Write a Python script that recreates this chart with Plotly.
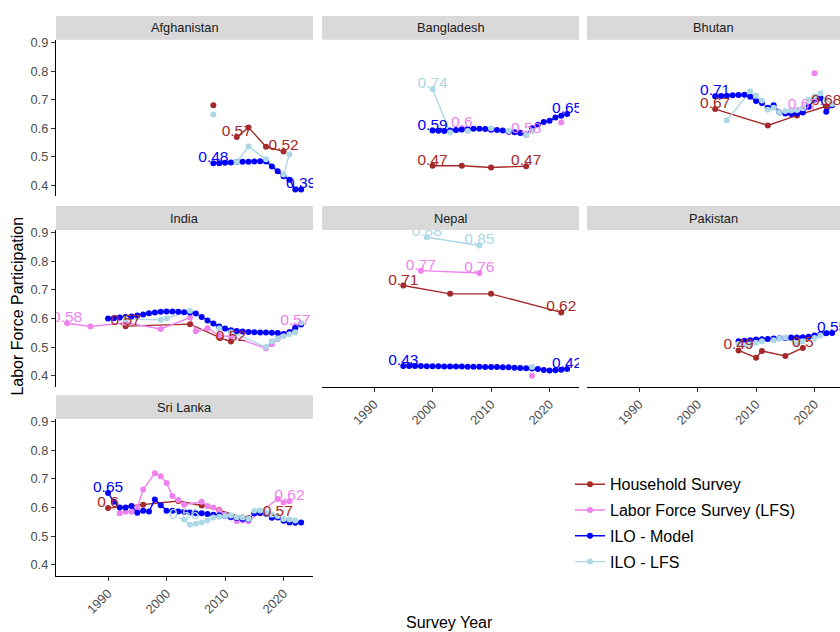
import plotly.graph_objects as go

# ---------------------------------------------------------------- data
SERIES = ["Household Survey", "Labor Force Survey (LFS)", "ILO - Model", "ILO - LFS"]
COLORS = ["#A52A2A", "#EE82EE", "#0000FF", "#ADD8E6"]
COUNTRIES = ["Afghanistan", "Bangladesh", "Bhutan", "India", "Nepal", "Pakistan", "Sri Lanka"]
X_TICKS = [1990, 2000, 2010, 2020]
Y_TICKS = [0.4, 0.5, 0.6, 0.7, 0.8, 0.9]

# None breaks a line between two survey rounds
AFGHANISTAN = {
    "Household Survey": ([2008, 2010, 2012, 2014, 2017, 2020],
                         [0.680, None, 0.569, 0.603, 0.535, 0.519]),
    "ILO - Model": (list(range(2008, 2024)),
                    [0.478, 0.478, 0.479, 0.480, 0.482, 0.483, 0.483, 0.484,
                     0.485, 0.484, 0.466, 0.450, 0.432, 0.420, 0.386, 0.386]),
    "ILO - LFS": ([2008, 2010, 2012, 2014, 2017, 2020, 2021],
                  [0.648, None, 0.482, 0.536, 0.492, 0.438, 0.509]),
}
BANGLADESH = {
    "Household Survey": ([2000, 2005, 2010, 2016], [0.469, 0.469, 0.463, 0.467]),
    "Labor Force Survey (LFS)": ([2005, 2010, 2013, 2015, 2016, 2019, 2022],
                                 [0.600, 0.593, 0.586, 0.585, 0.579, None, 0.620]),
    "ILO - Model": (list(range(2000, 2024)),
                    [0.592, 0.591, 0.590, 0.592, 0.594, 0.596, 0.597, 0.598,
                     0.598, 0.597, 0.596, 0.594, 0.592, 0.589, 0.586, 0.583,
                     0.578, 0.600, 0.612, 0.622, 0.626, 0.638, 0.644, 0.650]),
    "ILO - LFS": ([2000, 2003, 2006, 2010, 2013, 2016, 2017],
                  [0.737, 0.585, 0.590, 0.600, 0.590, 0.578, 0.590]),
}
BHUTAN = {
    "Household Survey": ([2003, 2012, 2017, 2022], [0.667, 0.610, 0.645, 0.677]),
    "Labor Force Survey (LFS)": ([2018, 2019, 2020], [0.665, None, 0.792]),
    "ILO - Model": (list(range(2003, 2024)),
                    [0.712, 0.713, 0.714, 0.715, 0.716, 0.717, 0.710, 0.695,
                     0.688, 0.672, 0.680, 0.655, 0.652, 0.650, 0.652, 0.655,
                     0.675, 0.700, 0.705, 0.658, 0.680]),
    "ILO - LFS": ([2005, 2009, 2010, 2011, 2012, 2013, 2014, 2015, 2016, 2017,
                   2018, 2019, 2020, 2021, 2022, 2023],
                  [0.628, 0.729, 0.714, 0.697, 0.665, 0.672, 0.655, 0.660,
                   0.662, 0.664, 0.670, 0.700, 0.712, 0.722, 0.700, 0.685]),
}
INDIA = {
    "Household Survey": ([1993, 2004, 2009, 2011], [0.573, 0.580, 0.534, 0.519]),
    "Labor Force Survey (LFS)": ([1983, 1987, 1993, 1999, 2004, 2005, 2007, 2009,
                                  2011, 2017, 2018, 2019, 2020, 2021, 2022],
                                 [0.583, 0.572, 0.585, 0.563, 0.603, 0.555, 0.566,
                                  0.540, 0.537, 0.496, 0.510, 0.528, 0.545, 0.553,
                                  0.573]),
    "ILO - Model": (list(range(1990, 2024)),
                    [0.600, 0.601, 0.603, 0.605, 0.607, 0.610, 0.614, 0.618,
                     0.621, 0.623, 0.624, 0.624, 0.623, 0.622, 0.621, 0.617,
                     0.605, 0.593, 0.582, 0.572, 0.565, 0.559, 0.556, 0.554,
                     0.553, 0.552, 0.551, 0.551, 0.550, 0.549, 0.546, 0.552,
                     0.567, 0.579]),
    "ILO - LFS": ([1993, 1999, 2000, 2004, 2009, 2011, 2017, 2018, 2019, 2020,
                   2021, 2022, 2023],
                  [0.598, 0.595, 0.600, 0.627, 0.565, 0.552, 0.500, 0.520,
                   0.530, 0.538, 0.545, 0.552, 0.585]),
}
NEPAL = {
    "Household Survey": ([1995, 2003, 2010, 2022], [0.715, 0.686, 0.686, 0.621]),
    "Labor Force Survey (LFS)": ([1998, 2008, 2012, 2017], [0.767, 0.759, None, 0.400]),
    "ILO - Model": (list(range(1995, 2024)),
                    [0.434, 0.434, 0.434, 0.434, 0.433, 0.433, 0.433, 0.432,
                     0.432, 0.432, 0.432, 0.431, 0.431, 0.431, 0.430, 0.430,
                     0.430, 0.429, 0.429, 0.428, 0.427, 0.426, 0.425, 0.423,
                     0.420, 0.418, 0.419, 0.421, 0.423]),
    "ILO - LFS": ([1999, 2008, 2012, 2017], [0.884, 0.855, None, 0.430]),
}
PAKISTAN = {
    "Household Survey": ([2007, 2010, 2011, 2015, 2018], [0.488, 0.463, 0.486, 0.469, 0.497]),
    "ILO - Model": (list(range(2007, 2024)),
                    [0.520, 0.522, 0.524, 0.526, 0.527, 0.528, 0.530, 0.531,
                     0.532, 0.533, 0.533, 0.534, 0.536, 0.540, 0.545, 0.548,
                     0.549]),
    "ILO - LFS": ([2007, 2008, 2009, 2010, 2011, 2013, 2014, 2015, 2017, 2018,
                   2020, 2021],
                  [0.511, 0.506, 0.510, 0.515, 0.520, 0.524, 0.530, 0.533,
                   0.510, 0.520, 0.532, 0.540]),
}
SRI_LANKA = {
    "Household Survey": ([1990, 1996, 2002, 2006, 2009, 2013, 2016, 2019],
                         [0.598, 0.610, 0.623, 0.607, 0.591, 0.565, 0.580, 0.568]),
    "Labor Force Survey (LFS)": ([1992, 1993, 1994, 1995, 1996, 1998, 1999, 2000,
                                  2001, 2002, 2003, 2006, 2007, 2008, 2009, 2010,
                                  2011, 2012, 2013, 2014, 2019, 2020, 2021],
                                 [0.580, 0.585, 0.585, 0.600, 0.663, 0.720, 0.709,
                                  0.686, 0.640, 0.626, 0.610, 0.620, 0.605, 0.600,
                                  0.590, 0.575, 0.565, 0.553, 0.555, 0.553, 0.630,
                                  0.618, 0.622]),
    "ILO - Model": (list(range(1990, 2024)),
                    [0.651, 0.620, 0.600, 0.600, 0.605, 0.582, 0.589, 0.586,
                     0.628, 0.608, 0.589, 0.589, 0.586, 0.585, 0.583, 0.580,
                     0.580, 0.577, 0.575, 0.573, 0.570, 0.567, 0.563, 0.560,
                     0.558, 0.580, 0.582, 0.578, 0.564, 0.565, 0.554, 0.548,
                     0.547, 0.548]),
    "ILO - LFS": (list(range(2003, 2023)),
                  [0.558, 0.540, 0.543, 0.548, 0.555, 0.565, 0.568, 0.570,
                   0.572, 0.566, 0.565, 0.560, 0.589, 0.590, 0.582, 0.575,
                   0.570, 0.560, 0.558, 0.555]),
}

# survey years whose value is printed next to the point
AFGHANISTAN_LABELS = {"Household Survey": [2012, 2020], "ILO - Model": [2008, 2023]}
BANGLADESH_LABELS = {"Household Survey": [2000, 2016], "Labor Force Survey (LFS)": [2005, 2016],
                     "ILO - Model": [2000, 2023], "ILO - LFS": [2000]}
BHUTAN_LABELS = {"Household Survey": [2003, 2022], "Labor Force Survey (LFS)": [2018],
                 "ILO - Model": [2003]}
INDIA_LABELS = {"Household Survey": [1993, 2011], "Labor Force Survey (LFS)": [1983, 2022]}
NEPAL_LABELS = {"Household Survey": [1995, 2022], "Labor Force Survey (LFS)": [1998, 2008],
                "ILO - Model": [1995, 2023], "ILO - LFS": [1999, 2008]}
PAKISTAN_LABELS = {"Household Survey": [2007, 2018], "ILO - Model": [2023]}
SRI_LANKA_LABELS = {"Household Survey": [1990, 2019], "Labor Force Survey (LFS)": [2021],
                    "ILO - Model": [1990], "ILO - LFS": [2003]}

PANEL_DATA = [AFGHANISTAN, BANGLADESH, BHUTAN, INDIA, NEPAL, PAKISTAN, SRI_LANKA]
PANEL_LABELS = [AFGHANISTAN_LABELS, BANGLADESH_LABELS, BHUTAN_LABELS, INDIA_LABELS,
                NEPAL_LABELS, PAKISTAN_LABELS, SRI_LANKA_LABELS]

# ---------------------------------------------------------------- layout geometry (px)
W, H = 840, 632
COL_X = [(56, 313), (322, 579), (587, 840)]
ROW_TOP = [35, 226.7, 417.3]
PANEL_H = 158
STRIP_H = 24
X_MIN, X_MAX = 1981.1, 2025.03
PX_PER_YEAR = (COL_X[0][1] - COL_X[0][0]) / (X_MAX - X_MIN)
Y_RANGE = [0.3615, 0.9095]
LABEL_DROP = 0.01

FONT = "Liberation Sans, Arial, sans-serif"
AXIS_GREY = "#4D4D4D"
TICK_SIZE = 12.8
STRIP_SIZE = 12.8
TITLE_SIZE = 16
VALUE_SIZE = 15.5
LEGEND_SIZE = 16

fig = go.Figure()
layout_axes = {}
shapes, annotations = [], []

for i, country in enumerate(COUNTRIES):
    row, col = divmod(i, 3)
    n = i + 1
    xa, ya = f"x{n}", f"y{n}"
    x0, x1 = COL_X[col]
    top = ROW_TOP[row]
    bottom = top + PANEL_H
    xmax = X_MIN + (x1 - x0) / PX_PER_YEAR

    bottom_axis = (i >= 4)
    left_axis = (col == 0)
    layout_axes[f"xaxis{n}"] = dict(
        domain=[x0 / W, x1 / W], anchor=ya, range=[X_MIN, xmax],
        showgrid=False, zeroline=False,
        showline=bottom_axis, linecolor="black", linewidth=1.3,
        ticks="outside" if bottom_axis else "", ticklen=4, tickwidth=1.1,
        tickcolor="#333333", tickvals=X_TICKS, showticklabels=bottom_axis,
        tickangle=-45, tickfont=dict(size=TICK_SIZE, color=AXIS_GREY, family=FONT),
    )
    layout_axes[f"yaxis{n}"] = dict(
        domain=[1 - bottom / H, 1 - top / H], anchor=xa, range=Y_RANGE,
        showgrid=False, zeroline=False,
        showline=left_axis, linecolor="black", linewidth=1.3,
        ticks="outside" if left_axis else "", ticklen=4, tickwidth=1.1,
        tickcolor="#333333", tickvals=Y_TICKS, showticklabels=left_axis,
        tickfont=dict(size=TICK_SIZE, color=AXIS_GREY, family=FONT),
    )

    # facet strip
    shapes.append(dict(type="rect", xref="paper", yref="paper",
                       x0=x0 / W, x1=x1 / W, y0=1 - top / H, y1=1 - (top - STRIP_H) / H,
                       fillcolor="#D9D9D9", line=dict(width=0), layer="below"))
    annotations.append(dict(text=country, xref="paper", yref="paper",
                            x=(x0 + x1) / 2 / W, y=1 - (top - STRIP_H / 2) / H,
                            showarrow=False, xanchor="center", yanchor="middle",
                            font=dict(size=STRIP_SIZE, color="#1A1A1A", family=FONT)))

    data = PANEL_DATA[i]
    labels = PANEL_LABELS[i]
    # lines first, then points, then value labels
    for s, color in zip(SERIES, COLORS):
        if s in data:
            yrs, vals = data[s]
            fig.add_trace(go.Scatter(x=yrs, y=vals, mode="lines", xaxis=xa, yaxis=ya,
                                     line=dict(color=color, width=1.4),
                                     showlegend=False, hoverinfo="skip"))
    for s, color in zip(SERIES, COLORS):
        if s in data:
            yrs, vals = data[s]
            fig.add_trace(go.Scatter(x=yrs, y=vals, mode="markers", xaxis=xa, yaxis=ya,
                                     marker=dict(color=color, size=6),
                                     showlegend=False, hoverinfo="skip"))
    for s, color in zip(SERIES, COLORS):
        if s in data and s in labels:
            yrs, vals = data[s]
            lx, ly, lt = [], [], []
            for yr, v in zip(yrs, vals):
                if yr in labels[s] and v is not None:
                    lx.append(yr)
                    ly.append(v - LABEL_DROP)
                    lt.append(f"{round(v, 2):g}")
            fig.add_trace(go.Scatter(x=lx, y=ly, text=lt, mode="text",
                                     textposition="top center", xaxis=xa, yaxis=ya,
                                     textfont=dict(color=color, size=VALUE_SIZE, family=FONT),
                                     showlegend=False, hoverinfo="skip"))

# legend entries
for s, color in zip(SERIES, COLORS):
    fig.add_trace(go.Scatter(x=[None], y=[None], mode="lines+markers", name=s,
                             legendgroup=s, xaxis="x1", yaxis="y1",
                             line=dict(color=color, width=1.4),
                             marker=dict(color=color, size=6)))

annotations.append(dict(text="Survey Year", xref="paper", yref="paper",
                        x=449 / W, y=1 - 622 / H, showarrow=False,
                        xanchor="center", yanchor="middle",
                        font=dict(size=TITLE_SIZE, color="black", family=FONT)))
annotations.append(dict(text="Labor Force Participation", xref="paper", yref="paper",
                        x=18 / W, y=1 - 304 / H, showarrow=False, textangle=-90,
                        xanchor="center", yanchor="middle",
                        font=dict(size=TITLE_SIZE, color="black", family=FONT)))

fig.update_layout(
    width=W, height=H, margin=dict(l=0, r=0, t=0, b=0),
    paper_bgcolor="white", plot_bgcolor="white",
    font=dict(family=FONT),
    shapes=shapes, annotations=annotations,
    legend=dict(x=570 / W, y=1 - 466 / H, xanchor="left", yanchor="top",
                traceorder="grouped", tracegroupgap=2,
                font=dict(size=LEGEND_SIZE, color="black", family=FONT),
                bgcolor="rgba(0,0,0,0)"),
    **layout_axes,
)

fig.write_html("out.html")
